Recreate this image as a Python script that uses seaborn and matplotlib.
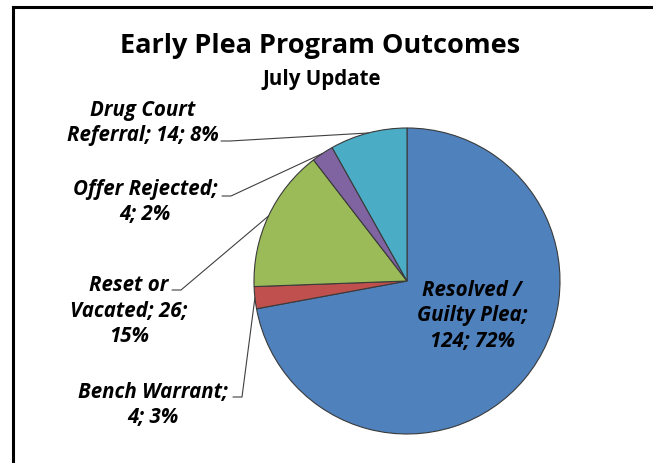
import matplotlib
matplotlib.use("Agg")
import numpy as np
import matplotlib.pyplot as plt
import seaborn as sns

sns.set_style("white")
plt.rcParams['font.family'] = ['Open Sans', 'DejaVu Sans']

# data, clockwise from 12 o'clock
outcomes = ["Resolved / Guilty Plea", "Bench Warrant", "Reset or Vacated",
            "Offer Rejected", "Drug Court Referral"]
counts = [124, 4, 26, 4, 14]
pcts = ["72%", "3%", "15%", "2%", "8%"]
label_text = ["Resolved /\nGuilty Plea;\n124; 72%",
              "Bench Warrant;\n4; 3%",
              "Reset or\nVacated; 26;\n15%",
              "Offer Rejected;\n4; 2%",
              "Drug Court\nReferral; 14; 8%"]
colors = ["#4F81BD", "#C0504D", "#9BBB59", "#8064A2", "#4BACC6"]

W, H = 653, 464
fig = plt.figure(figsize=(W / 100, H / 100), dpi=100)
ax = fig.add_axes([0, 0, 1, 1])

cx, cy, r = 407, H - 282, 153
wedges, _ = ax.pie(counts, colors=colors, startangle=90, counterclock=False,
                   center=(cx, cy), radius=r,
                   wedgeprops=dict(edgecolor="#3a3a3a", linewidth=0.8))
ax.set_xlim(0, W)
ax.set_ylim(0, H)
ax.set_aspect('equal')
ax.axis('off')

lab_font = dict(fontsize=14.8, fontweight='bold', fontstyle='italic',
                ha='center', va='center', linespacing=1.3, color='black')

# label text centre, leader start (x, y) for outside labels
label_pos = [(472, 316), (153, 405), (129, 311), (145, 202), (143, 123)]
leader_start = [None, (233, 398), (172, 291), (222, 197), (221, 142)]

for i, w in enumerate(wedges):
    lx, ly = label_pos[i]
    ax.text(lx, H - ly, label_text[i], **lab_font)
    if leader_start[i] is None:
        continue
    th = np.deg2rad((w.theta1 + w.theta2) / 2)
    ex, ey = cx + r * np.cos(th), cy + r * np.sin(th)
    sx, sy = leader_start[i]
    ax.plot([sx, sx + 9, ex], [H - sy, H - sy, ey], color='#404040', lw=0.8)

ax.text(320, H - 46, "Early Plea Program Outcomes", fontsize=19.5,
        fontweight='bold', ha='center', va='center', color='black')
ax.text(322, H - 80, "July Update", fontsize=14.8, fontweight='bold',
        ha='center', va='center', color='black')

# frame of the chart area (cropped on right and bottom)
ax.plot([13, 13], [-5, H - 8], color='black', lw=2.2, clip_on=False,
        solid_capstyle='projecting')
ax.plot([13, W + 5], [H - 8, H - 8], color='black', lw=2.2, clip_on=False,
        solid_capstyle='projecting')

fig.savefig("out.png", dpi=100)
